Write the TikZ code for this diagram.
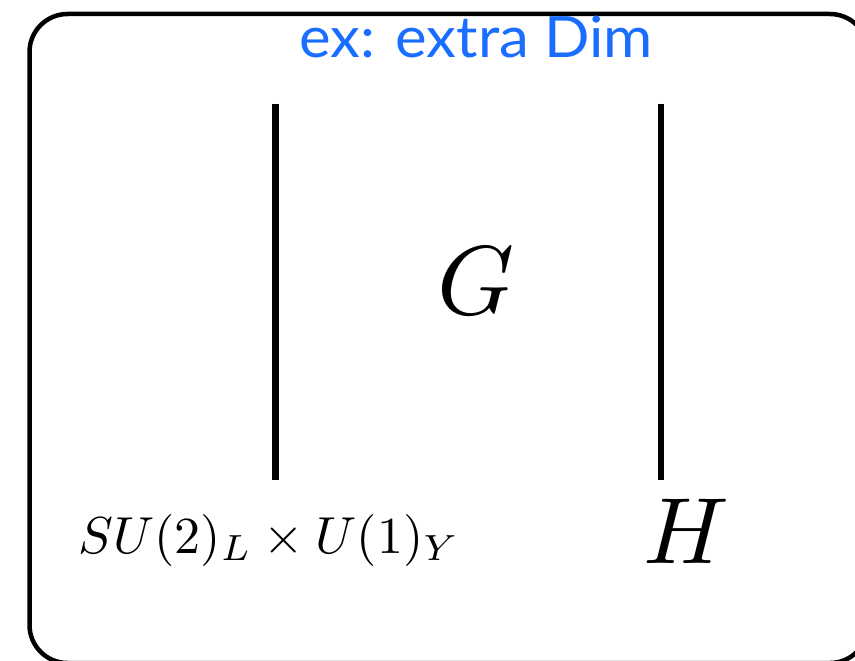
\documentclass[tikz,border=0pt]{standalone}
\usepackage{amsmath,amssymb}
\usepackage{fontspec}
\newfontfamily\titlefont[FakeStretch=1.05]{Lato}
\usepackage{tikz}
\usetikzlibrary{positioning,calc}
\usepackage{xcolor}
\definecolor{blue}{HTML}{1A6EFF}

\begin{document}
\begin{tikzpicture}[x=1pt,y=-1pt]
  \useasboundingbox (0,0) rectangle (855,661);
  % outer frame, runs off the right and bottom edges
  \draw[line width=4.5pt, rounded corners=38pt] (29.5,14) rectangle (868,663);
  % title
  \node[anchor=base, blue, inner sep=0pt] (title) at (476,58)
    {\titlefont\fontsize{57}{62}\selectfont ex: extra Dim};
  % the two branes
  \coordinate (lt) at (275.7,104);
  \coordinate (lb) at (275.7,480);
  \coordinate (rt) at (661,104);
  \coordinate (rb) at (661,480);
  \draw[line width=6.5pt] (lt) -- (lb);
  \draw[line width=6.5pt] (rt) -- (rb);
  % bulk group
  \node[anchor=base, inner sep=0pt] (G) at (476,314) {\scalebox{9.8}{$G$}};
  % groups on the branes
  \node[anchor=base, inner sep=0pt] (SM) at (269,553) {\scalebox{5.2}{$SU(2)_L\times U(1)_Y$}};
  \node[anchor=base, inner sep=0pt] (H) at (686,563) {\scalebox{9.4}{$H$}};
\end{tikzpicture}
\end{document}
